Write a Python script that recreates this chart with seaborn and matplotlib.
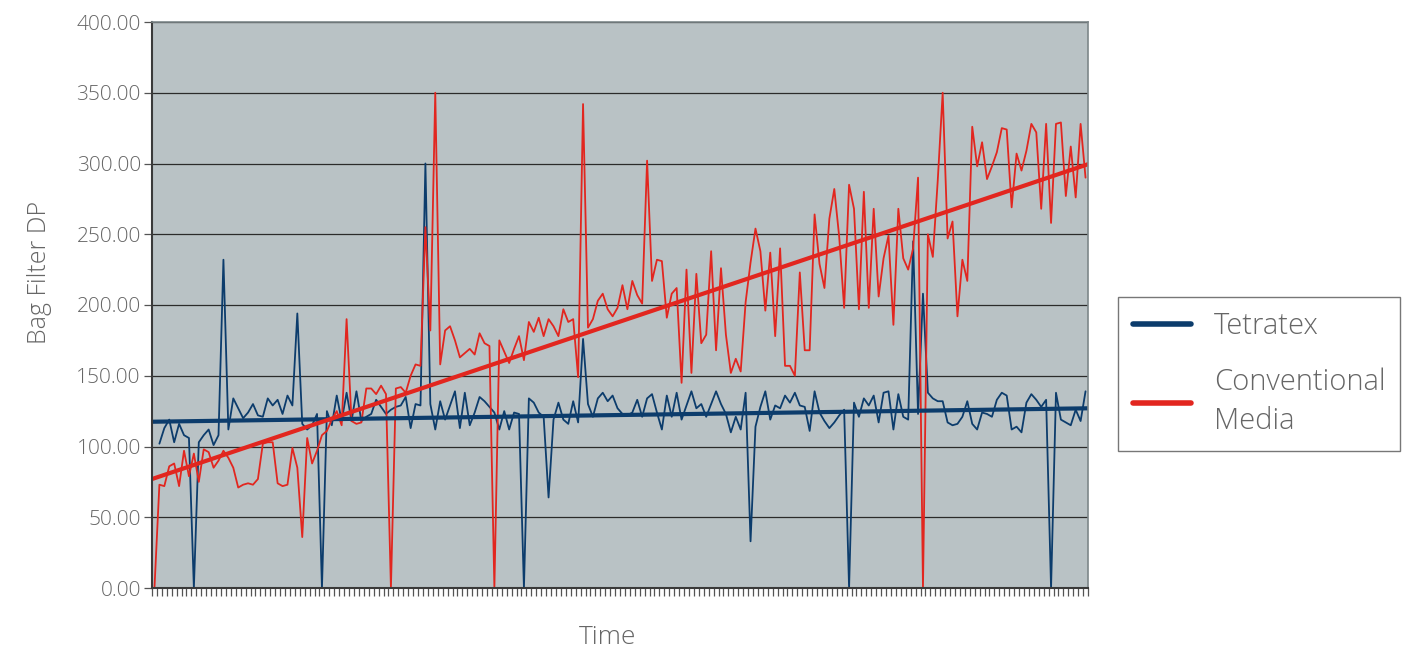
import numpy as np
import pandas as pd
import seaborn as sns
import matplotlib.pyplot as plt

# Bag filter DP readings, one per time step (190 steps)
tetratex = [
    np.nan, 102, 113, 119, 103, 116, 108, 106, 0, 103,
    108, 112, 101, 108, 232, 112, 134, 127, 120, 124,
    130, 122, 121, 134, 129, 133, 123, 136, 129, 194,
    116, 112, 115, 123, 0, 125, 115, 136, 118, 138,
    118, 139, 118, 121, 123, 133, 128, 123, 126, 128,
    129, 135, 113, 130, 129, 300, 130, 112, 132, 119,
    129, 139, 113, 138, 115, 124, 135, 132, 128, 124,
    112, 125, 112, 124, 123, 0, 134, 131, 124, 121,
    64, 119, 131, 119, 116, 132, 117, 176, 130, 121,
    134, 138, 132, 136, 127, 123, 122, 124, 133, 121,
    134, 137, 124, 112, 136, 121, 138, 119, 129, 139,
    127, 130, 121, 130, 139, 130, 123, 110, 121, 112,
    138, 33, 114, 128, 139, 119, 129, 127, 136, 131,
    138, 129, 128, 111, 139, 124, 118, 113, 117, 122,
    126, 0, 131, 121, 134, 129, 136, 117, 138, 139,
    112, 137, 121, 119, 245, 123, 208, 138, 134, 132,
    132, 117, 115, 116, 121, 132, 116, 112, 124, 123,
    121, 133, 138, 136, 112, 114, 110, 131, 137, 133,
    128, 133, 0, 138, 119, 117, 115, 126, 118, 139,
]

conventional = [
    0, 73, 72, 86, 88, 72, 97, 79, 95, 75,
    98, 96, 85, 90, 97, 92, 85, 71, 73, 74,
    73, 77, 102, 103, 103, 74, 72, 73, 99, 85,
    36, 106, 88, 97, 108, 111, 119, 125, 115, 190,
    118, 116, 117, 141, 141, 137, 143, 137, 0, 141,
    142, 138, 150, 158, 157, 255, 182, 350, 158, 182,
    185, 175, 163, 166, 169, 165, 180, 173, 171, 0,
    175, 167, 159, 169, 178, 161, 188, 181, 191, 178,
    190, 185, 178, 197, 188, 190, 149, 342, 184, 190,
    203, 208, 197, 192, 198, 214, 197, 217, 207, 201,
    302, 217, 232, 231, 191, 208, 212, 145, 225, 152,
    222, 173, 179, 238, 168, 226, 179, 152, 162, 153,
    202, 230, 254, 238, 196, 237, 178, 240, 157, 157,
    150, 223, 168, 168, 264, 229, 212, 261, 282, 248,
    198, 285, 268, 197, 280, 198, 268, 206, 233, 249,
    186, 268, 233, 225, 240, 290, 0, 250, 234, 288,
    350, 247, 259, 192, 232, 217, 326, 298, 315, 289,
    298, 308, 325, 324, 269, 307, 295, 309, 328, 322,
    268, 328, 258, 328, 329, 277, 312, 276, 328, 290,
]

# linear trend lines, value at the left and right edge of the plot
tetratex_trend = [117.5, 127.0]
conventional_trend = [77.0, 299.5]

series_labels = ["Tetratex", "Conventional\nMedia"]
y_ticks = [0, 50, 100, 150, 200, 250, 300, 350, 400]

BLUE = "#0c3c6c"
RED = "#e2261f"
TEXT = "#666666"

sns.set_style("white")
plt.rcParams["font.family"] = ["Open Sans", "DejaVu Sans"]
plt.rcParams["font.weight"] = "light"

n = len(conventional)
steps = np.arange(n)
df = pd.DataFrame({"step": steps, "tetratex": tetratex, "conventional": conventional})
trend_x = [-0.5, n - 0.5]

fig = plt.figure(figsize=(14.11, 6.52), dpi=100)
ax = fig.add_axes([152 / 1411, 1 - 588 / 652, 936 / 1411, 566 / 652])
ax.set_facecolor("#b9c2c5")

sns.lineplot(data=df, x="step", y="tetratex", ax=ax, color=BLUE, linewidth=1.3)
sns.lineplot(data=df, x="step", y="conventional", ax=ax, color=RED, linewidth=1.3)
sns.lineplot(x=trend_x, y=tetratex_trend, ax=ax, color=BLUE, linewidth=3.0,
             label=series_labels[0])
sns.lineplot(x=trend_x, y=conventional_trend, ax=ax, color=RED, linewidth=3.0,
             label=series_labels[1])

ax.set_xlim(trend_x[0], trend_x[1])
ax.set_ylim(0, 400)
ax.set_yticks(y_ticks)
ax.set_yticklabels([f"{v:.2f}" for v in y_ticks])
ax.set_xticks(np.arange(-0.5, n, 1))
ax.set_xticklabels([])
ax.grid(axis="y", color="#2b2b2b", linewidth=0.9)
ax.set_axisbelow(True)

ax.tick_params(axis="x", direction="out", length=6, width=0.9, color="#555555", bottom=True)
ax.tick_params(axis="y", direction="out", length=6, width=0.9, color="#555555", left=True,
               labelsize=15, labelcolor=TEXT, pad=2)

for side in ["left", "bottom"]:
    ax.spines[side].set_color("#3a3a3a")
    ax.spines[side].set_linewidth(1.5)
for side in ["top", "right"]:
    ax.spines[side].set_color("#7d878a")
    ax.spines[side].set_linewidth(1.2)

ax.set_xlabel("")
ax.set_ylabel("")
fig.text(608 / 1411, 1 - 638 / 652, "Time", fontsize=19, color=TEXT,
         ha="center", va="center")
fig.text(40 / 1411, 1 - 272 / 652, "Bag Filter DP", fontsize=18, color=TEXT,
         ha="center", va="center", rotation=90)

ax.legend_.remove()
handles, labels = ax.get_legend_handles_labels()
leg = fig.legend(handles, labels, loc="upper left", bbox_to_anchor=(1118 / 1411, 1 - 297 / 652),
                 fontsize=21, frameon=True, fancybox=False, edgecolor="#555555",
                 handlelength=2.0, handletextpad=0.8, borderpad=0.5, labelspacing=0.9,
                 borderaxespad=0)
leg.get_frame().set_linewidth(1.0)
for line in leg.get_lines():
    line.set_linewidth(4.0)
for t in leg.get_texts():
    t.set_color(TEXT)
    t.set_linespacing(1.45)

fig.savefig("out.png", dpi=100)
